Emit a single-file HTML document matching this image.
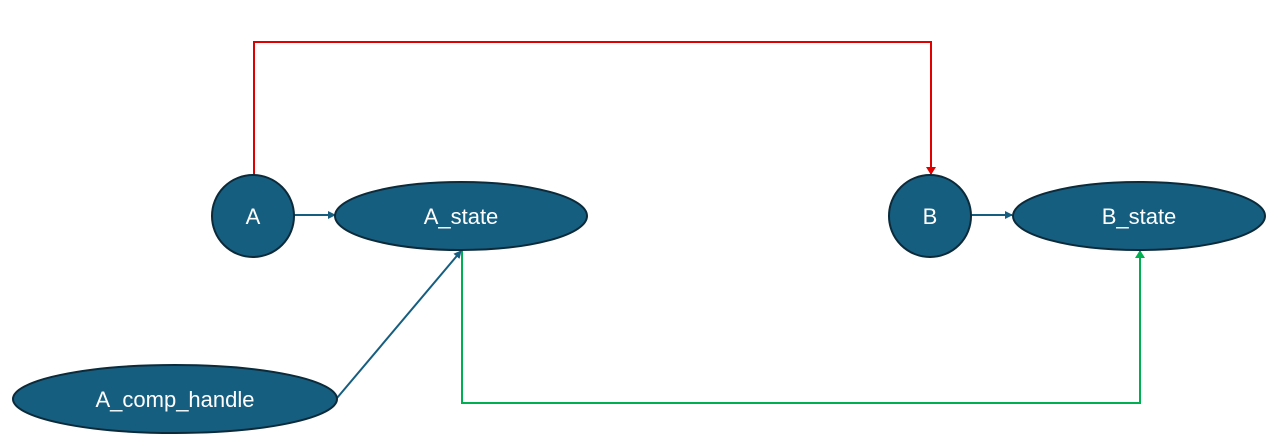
<!DOCTYPE html>
<html><head><meta charset="utf-8"><style>
html,body{margin:0;padding:0;background:#fff;}
svg{display:block;}
text{font-family:"Liberation Sans",sans-serif;font-size:22px;fill:#fff;}
</style></head><body>
<svg width="1282" height="435" viewBox="0 0 1282 435">
<defs>
<marker id="ab" markerWidth="8" markerHeight="8" refX="7" refY="4" orient="auto" markerUnits="userSpaceOnUse"><path d="M0,0 L8,4 L0,8 z" fill="#165e80"/></marker>
<marker id="ar" markerWidth="8" markerHeight="10" refX="7" refY="5" orient="auto" markerUnits="userSpaceOnUse"><path d="M0,0 L8,5 L0,10 z" fill="#e00000"/></marker>
<marker id="ag" markerWidth="8" markerHeight="10" refX="7" refY="5" orient="auto" markerUnits="userSpaceOnUse"><path d="M0,0 L8,5 L0,10 z" fill="#00b050"/></marker>
</defs>
<polyline points="254,175 254,42 931,42 931,174" fill="none" stroke="#e00000" stroke-width="2" marker-end="url(#ar)"/>
<polyline points="462,250 462,403 1140,403 1140,251" fill="none" stroke="#00b050" stroke-width="2" marker-end="url(#ag)"/>
<line x1="294" y1="215" x2="335" y2="215" stroke="#165e80" stroke-width="2" marker-end="url(#ab)"/>
<line x1="971" y1="215" x2="1012" y2="215" stroke="#165e80" stroke-width="2" marker-end="url(#ab)"/>
<line x1="337" y1="398" x2="461" y2="251" stroke="#165e80" stroke-width="2" marker-end="url(#ab)"/>
<g><circle cx="253" cy="216" r="41" fill="#165e80" stroke="#0b2a3a" stroke-width="2"/><text x="253" y="224" text-anchor="middle">A</text></g>
<g><ellipse cx="461" cy="216" rx="126" ry="34" fill="#165e80" stroke="#0b2a3a" stroke-width="2"/><text x="461" y="224" text-anchor="middle">A_state</text></g>
<g><circle cx="930" cy="216" r="41" fill="#165e80" stroke="#0b2a3a" stroke-width="2"/><text x="930" y="224" text-anchor="middle">B</text></g>
<g><ellipse cx="1139" cy="216" rx="126" ry="34" fill="#165e80" stroke="#0b2a3a" stroke-width="2"/><text x="1139" y="224" text-anchor="middle">B_state</text></g>
<g><ellipse cx="175" cy="399" rx="162" ry="34" fill="#165e80" stroke="#0b2a3a" stroke-width="2"/><text x="175" y="407" text-anchor="middle">A_comp_handle</text></g>
</svg>
</body></html>
